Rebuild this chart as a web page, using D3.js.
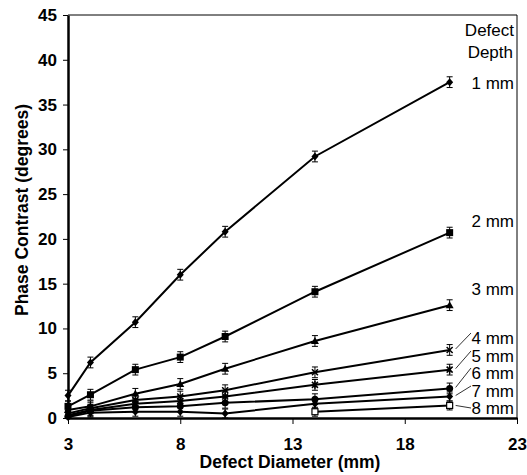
<!DOCTYPE html>
<html>
<head>
<meta charset="utf-8">
<script src="https://cdn.jsdelivr.net/npm/d3@7"></script>
<style>
  body { margin: 0; background: #fff; overflow: hidden; }
  svg { display: block; font-family: Arial, 'Liberation Sans', sans-serif; }
</style>
</head>
<body>
<div id="chart"></div>
<script>
/* Data */
const diameters = [3, 4, 6, 8, 10, 14, 20];
const depthLabels = ['1 mm', '2 mm', '3 mm', '4 mm', '5 mm', '6 mm', '7 mm', '8 mm'];
const depth1 = [2.5, 6.2, 10.7, 16.0, 20.8, 29.2, 37.5];
const depth2 = [1.3, 2.6, 5.4, 6.8, 9.1, 14.1, 20.7];
const depth3 = [0.9, 1.3, 2.7, 3.8, 5.5, 8.6, 12.6];
const depth4 = [0.5, 1.1, 2.0, 2.4, 3.1, 5.1, 7.6];
const depth5 = [0.3, 0.9, 1.6, 1.9, 2.4, 3.7, 5.4];
const depth6 = [0.2, 0.8, 1.2, 1.3, 1.7, 2.1, 3.3];
const depth7 = [0.1, 0.6, 0.7, 0.7, 0.5, 1.6, 2.4];
const depth8 = [null, null, null, null, null, 0.7, 1.4];
const errorBars = [0.6, 0.6, 0.6, 0.6, 0.6, 0.6, 0.5, 0.5];
const yTicks = [0, 5, 10, 15, 20, 25, 30, 35, 40, 45];
const xTicks = [3, 8, 13, 18, 23];

const allSeries = [depth1, depth2, depth3, depth4, depth5, depth6, depth7, depth8];
const markerKinds = ['diamond', 'square', 'triangle', 'x', 'star', 'circle', 'diamond', 'openSquare'];

const width = 527;
const height = 475;
const margin = { top: 15, right: 10, bottom: 57, left: 68 };
const innerWidth = width - margin.left - margin.right;
const innerHeight = height - margin.top - margin.bottom;

const svg = d3.select('#chart')
  .append('svg')
  .attr('width', width)
  .attr('height', height);

const chart = svg.append('g')
  .attr('transform', `translate(${margin.left},${margin.top})`);

const x = d3.scaleLinear().domain([3, 23]).range([0, innerWidth]);
const y = d3.scaleLinear().domain([0, 45]).range([innerHeight, 0]);

// frame (thin top and right)
chart.append('path')
  .attr('d', `M0,0H${innerWidth}V${innerHeight}`)
  .attr('fill', 'none')
  .attr('stroke', '#000')
  .attr('stroke-width', 1);

// axes
const yAxis = chart.append('g')
  .call(d3.axisLeft(y).tickValues(yTicks).tickSize(5).tickPadding(6).tickSizeOuter(0));
const xAxis = chart.append('g')
  .attr('transform', `translate(0,${innerHeight})`)
  .call(d3.axisBottom(x).tickValues(xTicks).tickSize(6).tickPadding(14).tickSizeOuter(0));

[yAxis, xAxis].forEach((ax) => {
  ax.attr('font-family', 'Arial, Liberation Sans, sans-serif').attr('font-size', 17);
  ax.select('.domain').attr('stroke-width', 2.5);
  ax.selectAll('.tick line').attr('stroke-width', 1);
  ax.selectAll('text')
    .attr('fill', '#000')
    .style('font-weight', 'bold');
});

// axis titles
svg.append('text')
  .attr('x', 290)
  .attr('y', 468)
  .attr('text-anchor', 'middle')
  .style('font-size', '17.5px')
  .style('font-weight', 'bold')
  .text('Defect Diameter (mm)');

svg.append('text')
  .attr('transform', 'translate(28,210) rotate(-90)')
  .attr('text-anchor', 'middle')
  .style('font-size', '17.5px')
  .style('font-weight', 'bold')
  .text('Phase Contrast (degrees)');

const line = d3.line()
  .defined((d) => d.v !== null)
  .x((d) => x(d.x))
  .y((d) => y(d.v));

function drawMarker (g, kind, px, py) {
  const s = 3.5;
  if (kind === 'diamond') {
    g.append('path').attr('d', `M${px},${py - s - 0.5}L${px + s},${py}L${px},${py + s + 0.5}L${px - s},${py}Z`).attr('fill', '#000');
  } else if (kind === 'square') {
    g.append('rect').attr('x', px - 3.5).attr('y', py - 3.5).attr('width', 7).attr('height', 7).attr('fill', '#000');
  } else if (kind === 'triangle') {
    g.append('path').attr('d', `M${px},${py - 4}L${px + 4},${py + 3}L${px - 4},${py + 3}Z`).attr('fill', '#000');
  } else if (kind === 'x') {
    g.append('path').attr('d', `M${px - 3},${py - 3}L${px + 3},${py + 3}M${px - 3},${py + 3}L${px + 3},${py - 3}`).attr('stroke', '#000').attr('stroke-width', 1.5);
  } else if (kind === 'star') {
    g.append('path').attr('d', `M${px - 3},${py - 3}L${px + 3},${py + 3}M${px - 3},${py + 3}L${px + 3},${py - 3}M${px},${py - 4}V${py + 4}`).attr('stroke', '#000').attr('stroke-width', 1.5);
  } else if (kind === 'circle') {
    g.append('circle').attr('cx', px).attr('cy', py).attr('r', 3.5).attr('fill', '#000');
  } else if (kind === 'openSquare') {
    g.append('rect').attr('x', px - 3).attr('y', py - 3).attr('width', 6).attr('height', 6).attr('fill', '#fff').attr('stroke', '#000').attr('stroke-width', 1.2);
  }
}

allSeries.forEach((series, i) => {
  const pts = diameters.map((d, j) => ({ x: d, v: series[j] }));
  const g = chart.append('g');
  g.append('path')
    .datum(pts)
    .attr('d', line)
    .attr('fill', 'none')
    .attr('stroke', '#000')
    .attr('stroke-width', 2);

  pts.filter((p) => p.v !== null).forEach((p) => {
    const px = x(p.x);
    const top = y(p.v + errorBars[i]);
    const bot = y(Math.max(0, p.v - errorBars[i]));
    g.append('path')
      .attr('d', `M${px},${top}V${bot}M${px - 3},${top}H${px + 3}M${px - 3},${bot}H${px + 3}`)
      .attr('stroke', '#000')
      .attr('stroke-width', 1);
    drawMarker(g, markerKinds[i], px, y(p.v));
  });
});

// legend-like labels at the right
const labelRight = width - 13;
svg.append('text')
  .attr('x', labelRight)
  .attr('y', 36)
  .attr('text-anchor', 'end')
  .style('font-size', '17px')
  .text('Defect');
svg.append('text')
  .attr('x', labelRight - 1)
  .attr('y', 58)
  .attr('text-anchor', 'end')
  .style('font-size', '17px')
  .text('Depth');

const labelY = [89, 227, 295, 344, 362, 379, 397, 414];
const lastX = x(diameters[diameters.length - 1]);
depthLabels.forEach((lab, i) => {
  const small = i < 3;
  svg.append('text')
    .attr('x', labelRight)
    .attr('y', labelY[i])
    .attr('text-anchor', 'end')
    .style('font-size', '17px')
    .text(lab);
  if (!small) {
    const series = allSeries[i];
    const my = margin.top + y(series[series.length - 1]);
    const mx = margin.left + lastX;
    svg.append('line')
      .attr('x1', mx + 6)
      .attr('y1', my - (i === 7 ? 0 : 1))
      .attr('x2', 471)
      .attr('y2', labelY[i] - (i === 7 ? 6 : 11))
      .attr('stroke', '#000')
      .attr('stroke-width', 0.8);
  }
});
</script>
</body>
</html>
